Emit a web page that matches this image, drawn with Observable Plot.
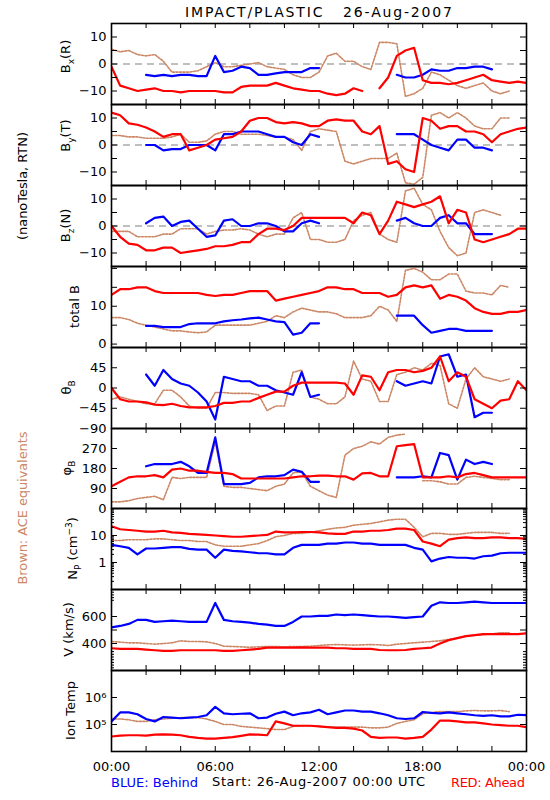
<!DOCTYPE html>
<html><head><meta charset="utf-8">
<script src="https://cdn.jsdelivr.net/npm/d3@7"></script>
<script src="https://cdn.jsdelivr.net/npm/@observablehq/plot@0.6"></script>
<style>
html,body{margin:0;padding:0;background:#fff;}
#wrap{position:relative;width:550px;height:800px;font-family:"DejaVu Sans",sans-serif;}
</style>
</head><body><div id="wrap"></div>
<script>
// ---------- data (hours since 26-Aug-2007 00:00 UTC) ----------
const hours = [0,0.5,1,1.5,2,2.5,3,3.5,4,4.5,5,5.5,6,6.5,7,7.5,8,8.5,9,9.5,10,10.5,11,11.5,12,12.5,13,13.5,14,14.5,15,15.5,16,16.5,17,17.5,18,18.5,19,19.5,20,20.5,21,21.5,22,22.5,23,23.5,24];
const N = null;
// Bx (R), nT
const bxAhead  = [-1,-8,-9,-10,-9.5,-9,-10,-10,-10.5,-10,-10,-10,-10,-10.5,-10.5,-8.5,-8,-8,-8,-7,-8,-9,-9.5,-10,-10,-11,-11.5,-11,-9,-10,N,-9,-5,3,5,6,-6,-7,-7,-7.5,-7,-6,-5,-4,-6,-6.5,-7,-6.5,-7];
const bxBehind = [N,N,N,N,-4,-4.5,-4,-4.5,-4,-4,-4.5,-4.5,3,-3,-2.5,-1,-1.5,-4,-4,-3.5,-3,-3,-3,-1.5,-1.5,N,N,N,N,N,N,N,N,-4,-5,-5,-4,-2,-2.5,-2.5,-1.5,-1.5,-1,-1,-2,N,N,N,N];
const bxAce    = [5.5,4.5,5,3.5,3,3.5,1,-3,-3,-3,-2.5,-1,0.5,-1,-1,-0.5,0,0.5,-1,-1.5,-2,-4,-5,-5,-3,3,4,1,1,-1,-2,8,8,7.5,-12,-11,-9,-3,-4,-6,-8,-9,-8,-7,-10,-11,-10,N,N];
// By (T)
const byAhead  = [12,11,8,7.5,6.5,5,3,4,4,-2,-1,0,2,2.5,3,5,9,10,10,8.5,8,8.5,8,7,7,9,9.5,9,9,5,4,7,-7,-6,-9,-10,10,9,6,7,7,5,5,4,1,4,5,6,6.5];
const byBehind = [N,N,N,N,0,0,-2,-1.5,-1.5,0,0,0,-2,4,4,5,5,5,4,3,3,1,0,4,3,N,N,N,N,N,N,N,N,4,4,4,2,0,-1,-2,2,2,-1,-1,-2,N,N,N,N];
const byAce    = [3.5,3.5,3,3,2.5,2.5,2.5,3,4,1,1,1.5,4,5,5,4,4,4,3.5,3,3,2,-2,5,6,5.5,5,-6,-7,-6,-5,-5,-5,-3,-14,-14.5,-12,11,12,10,12,10,7,6,6,10,10,N,N];
// Bz (N)
const bzAhead  = [0,-4,-6.5,-7,-9,-9,-8,-8,-10,-9.5,-9,-8.5,-7.5,-7.5,-7,-6,-6,-3,-1,-1,-1.5,0,3,3,3,3,3,3,1,5,4,-3,2,9,8,7,8,9,11,1,6,5,-5,-6,-5,-4,-3,-1,-1];
const bzBehind = [N,N,N,N,1,3,3.5,0,1.5,2,-1,-4,-3.5,2,2.5,0,0,1,1,0,-2,-2,1,2,1,N,N,N,N,N,N,N,N,2,3,1,0,0,3,4,1,1,-3,-3,-3,N,N,N,N];
const bzAce    = [-2,-2,-2,-4,-4,-4,-3,-3,-1,-1,-1,-3,-2,-1.5,-1.5,-1,-1.5,-3,-4,-3,-3,3,5,-5,-5,-6,-6,-5,2,4,5,-3,-5,-6,13,14,8,6,-2,-8,-11,-10,5,6,5,4,N,N,N];
// total B
const btAhead  = [13,14.5,14.5,15,15,14,13.5,13.5,13.5,13.5,13.5,13,12.7,13,13,13.5,14,14,14,11.5,12,12.5,13,13.5,14,15,15,14.5,14.5,13.5,13.5,13.5,12.5,13,15,15.5,15,15.5,12,13,12.5,11.5,9.5,8.5,8,8,8.5,8.5,9];
const btBehind = [N,N,N,N,4.8,4.8,4.5,4.5,4.5,5.3,5.5,5.5,5.5,6,6.3,6.5,6.8,7,6.5,6,5.8,2.5,3,5.5,5.5,N,N,N,N,N,N,N,N,7.5,7.5,7.5,5,3,3.5,4,4,3.5,3.5,3.5,3.5,N,N,N,N];
const btAce    = [7,7,6.5,5.5,5,4.5,4,3.5,3.5,3.2,3,3.2,5,5,5,5,5,5.5,6,7.5,7,8.5,9.5,9,8.5,8.5,8,7,7,7,7.5,10,9,6,19.5,20,19,17,17,18.5,18.5,14,13.5,13.5,13,15.5,15,N,N];
// theta_B, deg
const thAhead  = [0,-25,-30,-30,-32,-37,-38,-35,-40,-43,-43,-43,-40,-33,-33,-30,-30,-22,-15,-8,-8,5,12,12,12,12,12,10,-15,28,25,-5,35,40,40,35,38,45,70,15,35,25,-25,-35,-45,-28,-25,15,-5];
const thBehind = [N,N,N,N,30,5,40,20,10,5,-10,-30,-70,25,20,15,15,5,5,-5,-10,-15,35,-20,-15,N,N,N,N,N,N,N,N,15,5,10,15,10,70,75,25,30,-65,-55,-55,N,N,N,N];
const thAce    = [-25,-20,-25,-30,-35,-35,-5,-5,-20,-40,-45,-45,-10,-10,-12,-12,-12,-15,-50,-40,-40,35,40,-20,-25,-35,-35,-20,60,20,15,-30,-30,30,35,45,40,55,50,-35,-45,20,45,25,20,15,20,N,N];
// phi_B, deg
const phAhead  = [100,120,140,145,145,150,140,175,180,170,170,165,160,160,155,135,135,135,135,135,135,140,145,145,148,148,145,145,130,158,160,145,145,280,285,290,140,140,140,145,140,155,160,150,140,140,140,140,140];
const phBehind = [N,N,N,N,190,200,200,200,210,190,160,160,320,110,110,110,115,140,145,145,150,175,165,120,120,N,N,N,N,N,N,N,N,140,140,140,145,140,250,240,130,220,200,210,200,N,N,N,N];
const phAce    = [30,30,35,45,50,55,40,140,135,140,140,140,300,100,95,95,90,85,80,100,110,160,165,100,80,60,50,240,270,280,300,290,320,330,335,N,125,125,120,110,110,140,145,140,135,130,130,N,N];
// proton density, cm^-3
const npAhead  = [22,17,16,15,14,14,15,13,12.5,11.5,11,10.5,10,9.5,9,9,9.5,10,10.5,14,13,13,13.5,13.5,13,12,11.5,11.5,14,14,15,15,16,18,18,16,6,5,4,7,8,8.5,8,8,8.5,8.5,8,8,7.5];
const npBehind = [4.5,4,3.5,2,3.3,3.3,3.5,3.7,3.7,3.2,3,3,1.5,3,2.7,2.6,2.4,2.2,2.2,2,2,3.5,4.5,4.5,4.5,5,5,5.5,5.5,5,5,4.5,4.5,4.5,4.5,3.5,3,1.1,1.4,1.6,1.5,1.5,1.4,1.7,1.8,2.2,2.3,2.3,2.3];
const npAce    = [6.5,6.5,7,7,7,7.5,7.5,7,6.5,6.5,6,6,4.5,4,4,4,4.5,5,6.5,9,10,12,12,13,15,17,19,20,24,26,28,32,37,40,40,20,9,12,12,11,11,12,13,13,13,12,12,N,N];
// bulk speed, km/s
const vAhead   = [365,360,360,360,355,350,345,345,350,350,350,350,350,345,345,350,355,360,370,370,370,370,372,370,370,370,365,365,360,360,360,352,350,350,352,360,365,370,400,425,440,455,462,470,470,470,470,470,475];
const vBehind  = [520,530,545,575,575,560,565,570,565,560,560,560,700,575,565,560,555,545,540,530,530,560,600,600,605,605,615,610,615,610,605,600,600,595,590,595,600,680,705,700,700,705,710,705,700,700,700,700,700];
const vAce     = [415,410,405,405,400,395,400,405,420,415,415,412,400,380,378,375,372,375,378,378,375,378,378,380,385,390,392,390,388,390,392,390,385,395,400,405,410,415,420,430,440,455,460,465,470,480,480,N,N];
// ion temperature, K
const tAhead   = [3.6e4,3.9e4,4e4,4e4,3.9e4,4.2e4,4.3e4,4.2e4,4e4,3.5e4,3.2e4,3e4,3e4,3.2e4,3.4e4,3.8e4,4.3e4,4.2e4,4e4,1.3e5,1.1e5,9e4,9e4,9e4,8.5e4,8e4,7.5e4,7.5e4,7e4,6e4,3.5e4,3.2e4,3.3e4,3.3e4,3e4,3.2e4,3.5e4,6.5e4,1.4e5,1.4e5,1.3e5,1.2e5,1.2e5,1.1e5,1e5,9.5e4,9e4,9e4,8e4];
const tBehind  = [1.3e5,2.8e5,2.8e5,2.4e5,1.6e5,1.3e5,1.9e5,1.8e5,1.7e5,1.8e5,1.9e5,2.2e5,4.5e5,2.6e5,2.4e5,2.5e5,2.6e5,1.7e5,1.8e5,2.5e5,3e5,2.2e5,2.6e5,2.8e5,3.5e5,2.4e5,2.8e5,3.3e5,3.3e5,3e5,3e5,2.6e5,2.2e5,1.7e5,1.6e5,1.7e5,2.9e5,2.7e5,2.6e5,2.8e5,2.6e5,2.4e5,2.2e5,2.1e5,2.2e5,2e5,2e5,2.3e5,2.2e5];
const tAce     = [1.6e5,1.6e5,1.5e5,1.3e5,1.3e5,1.5e5,1.6e5,1.7e5,1.8e5,1.8e5,1.8e5,1.6e5,1.3e5,1e5,1e5,8.5e4,8e4,7.5e4,7e4,6.5e4,6.5e4,8.5e4,9e4,9e4,8.5e4,8e4,8e4,8e4,8e4,8e4,7.5e4,7.5e4,8e4,1.1e5,1.3e5,1.5e5,2.5e5,2.8e5,3e5,3e5,3e5,3.2e5,3.3e5,3.2e5,3.2e5,3.3e5,3e5,N,N];

// tick values
const hourTicks = [2,4,6,8,10,12,14,16,18,20,22];
const hourLabels = [0,6,12,18,24];

// ---------- styling ----------
const RED = "#ff0000", BLUE = "#0000ff", BROWN = "#cc8866";
const FONT = "'DejaVu Sans', sans-serif";
const tops = [23,104,185,266,347,428,508,589,670,751];
const minus = d => d < 0 ? "\u2212" + Math.abs(d) : String(d);
const logMinor = (lo, hi) => { const out=[]; for (let p=lo; p<hi; p++) for (let k=2;k<=9;k++) out.push(k*Math.pow(10,p)); return out; };

const panels = [
  {ahead:bxAhead, behind:bxBehind, ace:bxAce, y:{domain:[-15,15]}, labels:[-10,0,10], major:[-10,-5,0,5,10], minor:[], zero:true},
  {ahead:byAhead, behind:byBehind, ace:byAce, y:{domain:[-15,15]}, labels:[-10,0,10], major:[-10,-5,0,5,10], minor:[], zero:true},
  {ahead:bzAhead, behind:bzBehind, ace:bzAce, y:{domain:[-15,15]}, labels:[-10,0,10], major:[-10,-5,0,5,10], minor:[], zero:true},
  {ahead:btAhead, behind:btBehind, ace:btAce, y:{domain:[-0.9,20.5]}, labels:[0,10], major:[0,5,10,15,20], minor:[]},
  {ahead:thAhead, behind:thBehind, ace:thAce, y:{domain:[-90,90]}, labels:[-90,-45,0,45], major:[-45,0,45], minor:[]},
  {ahead:phAhead, behind:phBehind, ace:phAce, y:{domain:[0,360]}, labels:[0,90,180,270], major:[90,180,270], minor:[]},
  {ahead:npAhead, behind:npBehind, ace:npAce, y:{type:"log", domain:[0.1,100]}, labels:[1,10], major:[1,10], minor:logMinor(-1,2), fmt:d=>String(d)},
  {ahead:vAhead, behind:vBehind, ace:vAce, y:{domain:[200,800]}, labels:[400,600], major:[400,500,600], minor:[220,240,260,280,300,320,340,720,740,760,780]},
  {ahead:tAhead, behind:tBehind, ace:tAce, y:{type:"log", domain:[1e4,1e7]}, labels:[1e5,1e6], major:[1e5,1e6], minor:[], fmt:d=> d===1e5 ? "10\u2075" : "10\u2076"}
];

const wrap = document.getElementById("wrap");
const W = 550, ML = 111, MR = 24;
const innerW = W - ML - MR;

panels.forEach((p, i) => {
  const H = tops[i+1] - tops[i];
  const last = i === panels.length - 1;
  const rows = hours.map((h, j) => ({h, ahead: p.ahead[j], behind: p.behind[j], ace: p.ace[j]}));
  const svg = Plot.plot({
    width: W, height: H + (last ? 32 : 0),
    marginLeft: ML, marginRight: MR, marginTop: 0, marginBottom: last ? 32 : 0,
    x: {domain:[0,24], label:null, axis: last ? "bottom" : null, ticks: hourLabels,
        tickFormat: h => String(h % 24).padStart(2,"0") + ":00", tickSize:0, tickPadding:10},
    y: {...p.y, label:null, ticks:p.labels, tickFormat: p.fmt || minus, tickSize:0, tickPadding:5},
    marks: [
      p.zero ? Plot.ruleY([0], {stroke:"#808080", strokeWidth:1.2, strokeDasharray:"7,5"}) : null,
      Plot.line(rows, {x:"h", y:"ace", stroke:BROWN, strokeWidth:1.6, strokeDasharray:"2,1.5", clip:true}),
      Plot.line(rows, {x:"h", y:"behind", stroke:BLUE, strokeWidth:2.2, clip:true}),
      Plot.line(rows, {x:"h", y:"ahead", stroke:RED, strokeWidth:2.2, clip:true}),
      Plot.tickX(hourTicks, {x:d=>d, stroke:"black", insetBottom: H-5}),
      Plot.tickX(hourTicks, {x:d=>d, stroke:"black", insetTop: H-5}),
      Plot.tickY(p.major, {y:d=>d, stroke:"black", insetRight: innerW-6}),
      Plot.tickY(p.major, {y:d=>d, stroke:"black", insetLeft: innerW-6}),
      Plot.tickY(p.minor, {y:d=>d, stroke:"black", insetRight: innerW-3}),
      Plot.tickY(p.minor, {y:d=>d, stroke:"black", insetLeft: innerW-3}),
      Plot.frame({stroke:"black", strokeWidth:1.6})
    ]
  });
  svg.style.position = "absolute";
  svg.style.left = "0px";
  svg.style.top = tops[i] + "px";
  svg.style.background = "transparent";
  svg.style.overflow = "visible";
  svg.style.fontFamily = FONT;
  svg.style.fontSize = "13px";
  svg.style.color = "black";
  wrap.appendChild(svg);
});

// ---------- text overlay: title, axis titles, footer ----------
const NS = "http://www.w3.org/2000/svg";
const ov = document.createElementNS(NS, "svg");
ov.setAttribute("width", 550); ov.setAttribute("height", 800);
ov.style.cssText = "position:absolute;left:0;top:0;pointer-events:none;font-family:" + FONT + ";font-size:13px;";
wrap.appendChild(ov);

function txt(parts, opt) {
  const t = document.createElementNS(NS, "text");
  t.setAttribute("fill", opt.fill || "black");
  t.setAttribute("font-size", opt.size || 13);
  t.style.whiteSpace = "pre";
  if (opt.rotate) {
    t.setAttribute("transform", `translate(${opt.x},${opt.y}) rotate(-90)`);
    t.setAttribute("text-anchor", "middle");
  } else {
    t.setAttribute("x", opt.x); t.setAttribute("y", opt.y);
    t.setAttribute("text-anchor", opt.anchor || "start");
  }
  if (opt.len) { t.setAttribute("textLength", opt.len); t.setAttribute("lengthAdjust", "spacing"); }
  let shift = 0;
  parts.forEach(pt => {
    const s = document.createElementNS(NS, "tspan");
    if (typeof pt === "string") { s.textContent = pt; if (shift) { s.setAttribute("dy", -shift); shift = 0; } }
    else {
      const d = (pt.sub ? 4 : -5);
      s.setAttribute("dy", d - shift); shift = d;
      s.setAttribute("font-size", 9);
      s.textContent = pt.sub || pt.sup;
    }
    t.appendChild(s);
  });
  ov.appendChild(t);
  return t;
}

txt(["IMPACT/PLASTIC   26-Aug-2007"], {x:185, y:17, len:267, size:14});
txt(["(nanoTesla, RTN)"], {x:27, y:186, rotate:true, len:108});
txt(["Brown: ACE equivalents"], {x:27, y:508, rotate:true, len:153, fill:BROWN});

const mid = i => (tops[i] + tops[i+1]) / 2;
txt(["B", {sub:"x"}, "(R)"], {x:70, y:mid(0)-7, rotate:true});
txt(["B", {sub:"y"}, "(T)"], {x:70, y:mid(1)-9, rotate:true});
txt(["B", {sub:"z"}, "(N)"], {x:70, y:mid(2), rotate:true});
txt(["total B"], {x:79, y:mid(3), rotate:true});
txt(["\u03b8", {sub:"B"}], {x:71, y:mid(4), rotate:true});
txt(["\u03c6", {sub:"B"}], {x:71, y:mid(5), rotate:true});
txt(["N", {sub:"P"}, " (cm", {sup:"\u22123"}, ")"], {x:77, y:mid(6), rotate:true});
txt(["V (km/s)"], {x:73, y:mid(7), rotate:true});
txt(["Ion Temp"], {x:75, y:mid(8), rotate:true});

txt(["BLUE: Behind"], {x:111, y:787, len:87, fill:BLUE});
txt(["Start: 26-Aug-2007 00:00 UTC"], {x:212, y:786, len:213});
txt(["RED: Ahead"], {x:451, y:787, len:74, fill:RED});
</script>
</body></html>
